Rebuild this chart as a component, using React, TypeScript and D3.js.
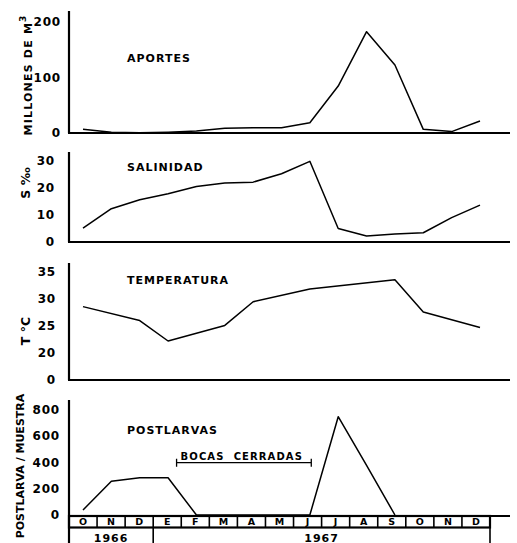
import React, {useEffect, useRef} from "react"
import * as d3 from "d3"

// months from oct 1966 to dec 1967
const months = ["O", "N", "D", "E", "F", "M", "A", "M", "J", "J", "A", "S", "O", "N", "D"]
const years = [{label: "1966", from: 0, to: 3}, {label: "1967", from: 3, to: 15}]

const aportes = [6, 1, 0, 1, 3, 8, 9, 9, 18, 84, 182, 122, 6, 2, 21]
const salinidad = [5, 12.2, 15.5, 17.7, 20.4, 21.7, 22, 25.1, 29.7, 4.9, 2.1, 2.8, 3.3, 8.9, 13.5]
const temperatura = [28.5, null, 25.9, 22.1, null, 25.0, 29.4, null, 31.8, null, null, 33.5, 27.5, null, 24.6]
const postlarvas = [38, 256, 282, 282, 0, 0, 0, 0, 0, 744, 376, 0, null, null, null]

const aportesTicks = [0, 100, 200]
const salinidadTicks = [0, 10, 20, 30]
const temperaturaTicks = [0, 20, 25, 30, 35]
const postlarvasTicks = [0, 200, 400, 600, 800]

// period with the inlet closed (month index, fractional)
const bocasCerradas = [3.3, 8.05]

const W = 517
const H = 543
const axisX = 69
const axisEnd = 510
const boxTop = 516
const boxBottom = 527.5

const font = "'DejaVu Sans', sans-serif"

const App = () => {
    const ref = useRef(null)

    useEffect(() => {
        const svg = d3.select(ref.current)
        svg.selectAll("*").remove()

        const x = d3.scaleLinear().domain([0, 14]).range([83, 480])
        const band = d3.scaleBand<number>().domain(d3.range(months.length)).range([axisX, 490])

        const panels = [
            {
                title: "APORTES", titleY: 62, values: aportes, ticks: aportesTicks,
                y: d3.scaleLinear().domain([0, 200]).range([132.7, 21.7]),
                top: 11, base: 133, tickX: 61,
                label: "MILLONES DE M", sup: "3", labelX: 32, labelY: 75, labelSize: 11,
            },
            {
                title: "SALINIDAD", titleY: 171, values: salinidad, ticks: salinidadTicks,
                y: d3.scaleLinear().domain([0, 30]).range([241.7, 160.5]),
                top: 152, base: 242, tickX: 55,
                label: "S ‰", sup: "", labelX: 30, labelY: 183, labelSize: 12.5,
            },
            {
                title: "TEMPERATURA", titleY: 284, values: temperatura, ticks: temperaturaTicks,
                y: d3.scaleLinear().domain([0, 20, 35]).range([380, 352.3, 271.7]),
                top: 263, base: 380, tickX: 56,
                label: "T °C", sup: "", labelX: 30, labelY: 331, labelSize: 12.5,
            },
            {
                title: "POSTLARVAS", titleY: 434, values: postlarvas, ticks: postlarvasTicks,
                y: d3.scaleLinear().domain([0, 800]).range([515, 409.3]),
                top: 400, base: boxTop, tickX: 60,
                label: "POSTLARVA / MUESTRA", sup: "", labelX: 24, labelY: 466, labelSize: 11,
            },
        ]

        panels.forEach(p => {
            const g = svg.append("g")

            // axes
            g.append("line")
                .attr("x1", axisX).attr("x2", axisX)
                .attr("y1", p.top).attr("y2", p.title === "POSTLARVAS" ? H : p.base)
                .attr("stroke", "#000").attr("stroke-width", 2.2)
            g.append("line")
                .attr("x1", axisX - 1).attr("x2", axisEnd)
                .attr("y1", p.base).attr("y2", p.base)
                .attr("stroke", "#000").attr("stroke-width", 2.2)

            g.selectAll(".tick")
                .data(p.ticks)
                .join("text")
                .attr("x", p.tickX)
                .attr("y", d => p.y(d) + 4.4)
                .attr("text-anchor", "end")
                .attr("font-family", font)
                .attr("font-weight", "bold")
                .attr("font-size", 12)
                .attr("letter-spacing", 0.8)
                .text(d => d)

            g.append("text")
                .attr("x", 127)
                .attr("y", p.titleY)
                .attr("font-family", font)
                .attr("font-weight", "bold")
                .attr("font-size", 11)
                .attr("letter-spacing", 1)
                .text(p.title)

            const lab = g.append("text")
                .attr("transform", `translate(${p.labelX},${p.labelY}) rotate(-90)`)
                .attr("text-anchor", "middle")
                .attr("font-family", font)
                .attr("font-weight", "bold")
                .attr("font-size", p.labelSize)
                .attr("letter-spacing", p.sup ? 1.2 : 0)
            lab.append("tspan").text(p.label)
            if (p.sup) {
                lab.append("tspan").attr("dy", -6).attr("font-size", 9).text(p.sup)
            }

            const pts = p.values
                .map((v, i) => [i, v] as [number, number | null])
                .filter(d => d[1] !== null) as [number, number][]

            const line = d3.line<[number, number]>()
                .x(d => x(d[0]))
                .y(d => p.y(d[1]))

            g.append("path")
                .attr("d", line(pts))
                .attr("fill", "none")
                .attr("stroke", "#000")
                .attr("stroke-width", 1.5)
                .attr("stroke-linejoin", "round")
        })

        // bocas cerradas bracket
        const bx0 = x(bocasCerradas[0])
        const bx1 = x(bocasCerradas[1])
        const by = 462.7
        svg.append("path")
            .attr("d", `M${bx0},${by - 4}V${by + 4}M${bx0},${by}H${bx1}M${bx1},${by - 4}V${by + 4}`)
            .attr("fill", "none").attr("stroke", "#000").attr("stroke-width", 1.3)
        svg.append("text")
            .attr("x", bx0 + 4)
            .attr("y", by - 2.5)
            .attr("font-family", font)
            .attr("font-weight", "bold")
            .attr("font-size", 10)
            .attr("letter-spacing", 1.1)
            .attr("xml:space", "preserve")
            .style("white-space", "pre")
            .text("BOCAS  CERRADAS")

        // month boxes
        const mg = svg.append("g")
        mg.append("rect")
            .attr("x", axisX).attr("y", boxTop)
            .attr("width", band.range()[1] - axisX).attr("height", boxBottom - boxTop)
            .attr("fill", "none").attr("stroke", "#000").attr("stroke-width", 2.2)
        mg.selectAll(".div")
            .data(d3.range(1, months.length))
            .join("line")
            .attr("x1", d => band(d)!).attr("x2", d => band(d)!)
            .attr("y1", boxTop).attr("y2", boxBottom)
            .attr("stroke", "#000").attr("stroke-width", 1.6)
        mg.selectAll(".m")
            .data(months)
            .join("text")
            .attr("x", (d, i) => band(i)! + band.bandwidth() / 2)
            .attr("y", boxBottom - 2.5)
            .attr("text-anchor", "middle")
            .attr("font-family", font)
            .attr("font-weight", "bold")
            .attr("font-size", 9.5)
            .text(d => d)

        // years row
        const edge = (i: number) => i >= months.length ? band.range()[1] : band(i)!
        mg.selectAll(".ysep")
            .data([0, 3, 15])
            .join("line")
            .attr("x1", d => edge(d)).attr("x2", d => edge(d))
            .attr("y1", boxBottom).attr("y2", H)
            .attr("stroke", "#000").attr("stroke-width", 1.6)
        mg.selectAll(".yr")
            .data(years)
            .join("text")
            .attr("x", d => (edge(d.from) + edge(d.to)) / 2)
            .attr("y", 541.5)
            .attr("text-anchor", "middle")
            .attr("font-family", font)
            .attr("font-weight", "bold")
            .attr("font-size", 11)
            .attr("letter-spacing", 1)
            .text(d => d.label)
    }, [])

    return (
        <svg
            ref={ref}
            width={W}
            height={H}
            viewBox={`0 0 ${W} ${H}`}
            style={{position: "absolute", left: 0, top: 0, display: "block", background: "#fff"}}
        />
    )
}

export default App
